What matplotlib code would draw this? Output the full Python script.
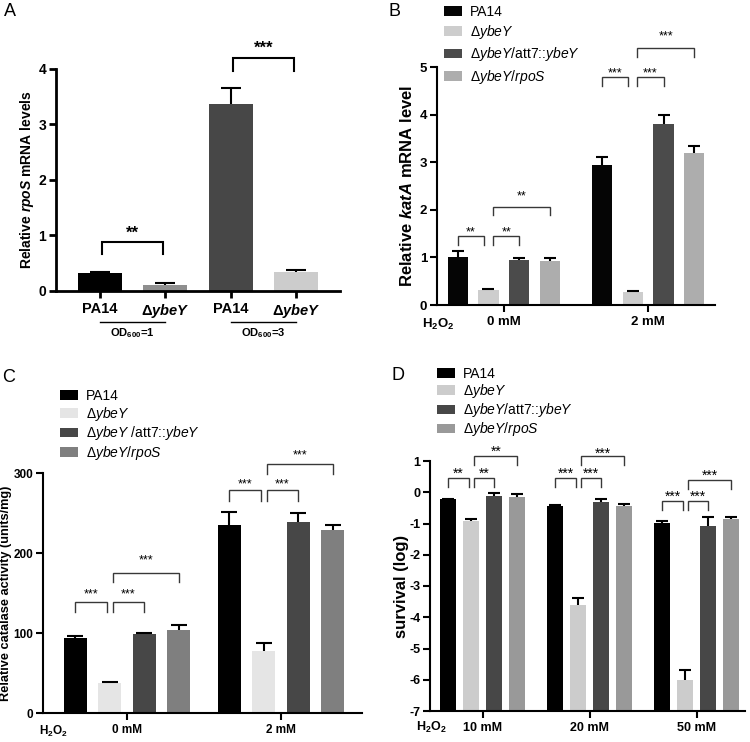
import numpy as np
import matplotlib
matplotlib.use("Agg")
import matplotlib.pyplot as plt
from matplotlib.patches import Patch
from matplotlib.transforms import offset_copy, blended_transform_factory

plt.rcParams['font.family'] = ['Liberation Sans', 'DejaVu Sans']
plt.rcParams['mathtext.fontset'] = 'custom'
plt.rcParams['mathtext.rm'] = 'Liberation Sans'
plt.rcParams['mathtext.it'] = 'Liberation Sans:italic'
plt.rcParams['mathtext.bf'] = 'Liberation Sans:bold'
HAS_BFIT = 'mathtext.bfit' in plt.rcParams
if HAS_BFIT:
    plt.rcParams['mathtext.bfit'] = 'Liberation Sans:italic:bold'
plt.rcParams['axes.unicode_minus'] = False

W, H = 750, 742
BFIT = r"\mathbfit" if HAS_BFIT else r"\mathit"

# ---- dane ----
# A: rpoS mRNA
a_labels = ["PA14", "Δ$" + BFIT + "{ybeY}$", "PA14", "Δ$" + BFIT + "{ybeY}$"]
a_od = [r"OD$_\mathbf{600}$=1", r"OD$_\mathbf{600}$=3"]
a_vals = [0.32, 0.11, 3.36, 0.34]
a_err = [0.02, 0.02, 0.29, 0.04]
a_colors = ['#000000', '#8f8f8f', '#474747', '#cccccc']
# (i, j, top, tip, star_y, tekst)
a_sig = [(0, 1, 0.88, 0.66, 1.13, "**"), (2, 3, 4.20, 3.97, 4.47, "***")]

# B: katA mRNA
b_groups = ["0 mM", "2 mM"]
b_strains = ["PA14", r"Δ$\mathit{ybeY}$", r"Δ$\mathit{ybeY/}$att7::$\mathit{ybeY}$",
             r"Δ$\mathit{ybeY/rpoS}$"]
b_vals = [[1.00, 0.31, 0.95, 0.92], [2.95, 0.27, 3.80, 3.20]]
b_err = [[0.13, 0.03, 0.03, 0.07], [0.15, 0.02, 0.20, 0.13]]
b_colors = ['#050505', '#cdcdcd', '#4b4b4b', '#adadad']
# (grupa, i, j, top, tip, star_y, tekst)
b_sig = [(0, 0, 1, 1.45, 1.26, 1.62, "**"), (0, 1, 2, 1.45, 1.26, 1.62, "**"),
         (0, 1, 3, 2.06, 1.89, 2.36, "**"),
         (1, 0, 1, 4.78, 4.60, 4.96, "***"), (1, 1, 2, 4.78, 4.60, 4.96, "***"),
         (1, 1, 3, 5.40, 5.20, 5.73, "***")]

# C: catalase activity
c_groups = ["0 mM", "2 mM"]
c_strains = ["PA14", r"Δ$\mathit{ybeY}$", r"Δ$\mathit{ybeY}$ /att7::$\mathit{ybeY}$",
             r"Δ$\mathit{ybeY/rpoS}$"]
c_vals = [[94, 37.5, 99, 104.5], [236, 78, 239.5, 229]]
c_err = [[3, 2, 1.5, 5.5], [16, 10, 10.5, 7]]
c_colors = ['#000000', '#e5e5e5', '#474747', '#7f7f7f']
c_sig = [(0, 0, 1, 138.7, 127, 154, "***"), (0, 1, 2, 138.7, 127, 154, "***"),
         (0, 1, 3, 176, 164, 196, "***"),
         (1, 0, 1, 279, 266, 291, "***"), (1, 1, 2, 279, 266, 291, "***"),
         (1, 1, 3, 311.7, 299, 327, "***")]

# D: survival
d_groups = ["10 mM", "20 mM", "50 mM"]
d_strains = ["PA14", r"Δ$\mathit{ybeY}$", r"Δ$\mathit{ybeY/}$att7::$\mathit{ybeY}$",
             r"Δ$\mathit{ybeY/rpoS}$"]
d_vals = [[-0.22, -0.93, -0.11, -0.14], [-0.43, -3.60, -0.32, -0.44],
          [-0.99, -6.00, -1.09, -0.87]]
d_err = [[0.01, 0.07, 0.08, 0.09], [0.01, 0.21, 0.10, 0.08], [0.06, 0.30, 0.29, 0.08]]
d_colors = ['#000000', '#cccccc', '#474747', '#999999']
d_sig = [(0, 0, 1, 0.47, 0.17, 0.73, "**"), (0, 1, 2, 0.47, 0.17, 0.73, "**"),
         (0, 1, 3, 1.15, 0.86, 1.42, "**"),
         (1, 0, 1, 0.47, 0.17, 0.73, "***"), (1, 1, 2, 0.47, 0.17, 0.73, "***"),
         (1, 1, 3, 1.15, 0.86, 1.37, "***"),
         (2, 0, 1, -0.28, -0.58, -0.02, "***"), (2, 1, 2, -0.28, -0.58, -0.02, "***"),
         (2, 1, 3, 0.38, 0.09, 0.64, "***")]


def px_axes(fig, left, top, right, bottom):
    return fig.add_axes([left / W, 1 - bottom / H, (right - left) / W, (bottom - top) / H])


def styl(ax, lw, tlen=5):
    for s in ("top", "right"):
        ax.spines[s].set_visible(False)
    for s in ("left", "bottom"):
        ax.spines[s].set_linewidth(lw)
    ax.tick_params(axis="both", direction="out", width=lw, length=tlen, color="black")


def slupki_err(ax, x, vals, errs, colors, width, cap, base=0.0):
    vals = np.asarray(vals, float)
    errs = np.asarray(errs, float)
    ax.bar(x, vals - base, width, bottom=base, color=colors, zorder=2)
    top = vals + errs
    ax.vlines(x, vals, top, color='black', lw=1.5, zorder=3)
    ax.plot(x, top, ls='none', marker='_', ms=cap, mew=1.5, color='black', zorder=3)


def klamra(ax, x1, x2, top, tip, star_y, text, fs, color, lw, bold=False):
    ax.plot([x1, x1, x2, x2], [tip, top, top, tip], color=color, lw=lw,
            clip_on=False, zorder=4, solid_joinstyle='miter')
    tr = offset_copy(ax.transData, fig=ax.figure, y=-0.57 * fs, units='points')
    ax.text((x1 + x2) / 2, star_y, text, ha='center', va='baseline', fontsize=fs,
            fontweight='bold' if bold else 'normal', transform=tr, clip_on=False)


def legenda(fig, ax, colors, labels, x, y, fs, spacing):
    handles = [Patch(facecolor=c, edgecolor='none') for c in colors]
    ax.legend(handles, labels, loc='upper left', bbox_to_anchor=(x / W, 1 - y / H),
              bbox_transform=fig.transFigure, frameon=False, fontsize=fs,
              handlelength=1.3, handleheight=0.7, handletextpad=0.55,
              labelspacing=spacing, borderpad=0, borderaxespad=0)


def panel_grupy(fig, box, groups, strains, vals, errs, colors, sig, step, width, cap,
                xlim, ylim, yticks, fs_tick, ylabel, fs_ylab, ylab_x, leg_xy, fs_leg,
                leg_sp, h2o2_xy, gap, base=0.0, fs_star=9):
    left, top, right, bottom = box
    ax = px_axes(fig, left, top, right, bottom)
    vals = np.asarray(vals, float)
    errs = np.asarray(errs, float)
    n = vals.shape[1]
    offs = (np.arange(n) - (n - 1) / 2) * step
    gx = np.arange(len(groups))
    for k in range(n):
        slupki_err(ax, gx + offs[k], vals[:, k], errs[:, k], colors[k], width, cap, base)
    ax.set_xlim(*xlim)
    ax.set_ylim(*ylim)
    styl(ax, 1.5)
    ax.set_yticks(yticks)
    ax.set_yticklabels([str(t) for t in yticks], fontweight='bold', fontsize=fs_tick)
    ax.set_xticks(gx)
    ax.set_xticklabels(groups, fontweight='bold', fontsize=fs_tick)
    ax.tick_params(axis='y', pad=2)
    ax.tick_params(axis='x', pad=3)
    ax.set_ylabel(ylabel, fontweight='bold', fontsize=fs_ylab)
    ax.yaxis.set_label_coords((ylab_x - left) / (right - left), 0.5)
    for g, i, j, t, tp, sy, s in sig:
        x1 = g + offs[i] + (gap if i > 0 else 0)
        x2 = g + offs[j] - (gap if j == 1 else 0)
        klamra(ax, x1, x2, t, tp, sy, s, fs_star, '#383838', 1.0)
    legenda(fig, ax, colors, strains, leg_xy[0], leg_xy[1], fs_leg, leg_sp)
    fig.text(h2o2_xy[0] / W, 1 - h2o2_xy[1] / H, r"H$_\mathbf{2}$O$_\mathbf{2}$",
             fontweight='bold', fontsize=fs_tick, ha='center', va='center')
    return ax


fig = plt.figure(figsize=(W / 100, H / 100), dpi=100)

# ---- Panel A ----
axA = px_axes(fig, 56, 69, 340, 290.7)
xa = np.arange(len(a_vals))
slupki_err(axA, xa, a_vals, a_err, a_colors, 0.67, 15)
axA.set_xlim(-0.67, 3.67)
axA.set_ylim(0, 4)
styl(axA, 2.0, tlen=5)
axA.set_yticks(range(5))
axA.set_yticklabels([str(t) for t in range(5)], fontweight='bold', fontsize=10)
axA.set_xticks(xa)
axA.set_xticklabels(a_labels, fontweight='bold', fontsize=10.5)
axA.tick_params(axis='x', pad=3)
axA.tick_params(axis='y', pad=2)
axA.set_ylabel("Relative $" + BFIT + "{rpoS}$ mRNA levels", fontweight='bold', fontsize=10)
axA.yaxis.set_label_coords((36 - 56) / (340 - 56), 0.5)
for i, j, t, tp, sy, s in a_sig:
    klamra(axA, i + 0.03, j - 0.03, t, tp, sy, s, 12, 'black', 1.5, bold=True)
trA = blended_transform_factory(axA.transData, axA.transAxes)
for k, lab in enumerate(a_od):
    axA.plot([2 * k, 2 * k + 1], [-0.141, -0.141], color='black', lw=1.0,
             transform=trA, clip_on=False)
    axA.text(2 * k + 0.5, -0.19, lab, transform=trA, ha='center', va='center',
             fontweight='bold', fontsize=8)

# ---- Panel B ----
panel_grupy(fig, (437, 67, 715, 305), b_groups, b_strains, b_vals, b_err, b_colors, b_sig,
            step=0.215, width=0.139, cap=8, xlim=(-0.465, 1.465), ylim=(0, 5),
            yticks=list(range(6)), fs_tick=9.5,
            ylabel="Relative $" + BFIT + "{katA}$ mRNA level", fs_ylab=12, ylab_x=415,
            leg_xy=(444, 5), fs_leg=10, leg_sp=0.3, h2o2_xy=(438, 324), gap=0.03,
            fs_star=9)

# ---- Panel C ----
panel_grupy(fig, (43, 473.3, 362, 713.3), c_groups, c_strains, c_vals, c_err, c_colors,
            c_sig, step=0.224, width=0.149, cap=12, xlim=(-0.545, 1.526), ylim=(0, 300),
            yticks=[0, 100, 200, 300], fs_tick=8.5,
            ylabel="Relative catalase activity (units/mg)", fs_ylab=9.2, ylab_x=12,
            leg_xy=(60, 389), fs_leg=10, leg_sp=0.12, h2o2_xy=(54, 731), gap=0.02,
            fs_star=9)

# ---- Panel D ----
panel_grupy(fig, (430, 461, 745, 711), d_groups, d_strains, d_vals, d_err, d_colors,
            d_sig, step=0.215, width=0.15, cap=8.5, xlim=(-0.495, 2.45), ylim=(-7, 1),
            yticks=list(range(-7, 2)), fs_tick=9,
            ylabel="survival (log)", fs_ylab=12, ylab_x=409,
            leg_xy=(437, 367), fs_leg=10, leg_sp=0.08, h2o2_xy=(431, 727), gap=0.025,
            base=-7, fs_star=10)

# litery paneli
for lit, (x, y) in zip("ABCD", [(10, 12), (395, 11), (9, 377), (398, 376)]):
    fig.text(x / W, 1 - y / H, lit, fontsize=13, ha='center', va='center')

fig.savefig("out.png", dpi=100)
